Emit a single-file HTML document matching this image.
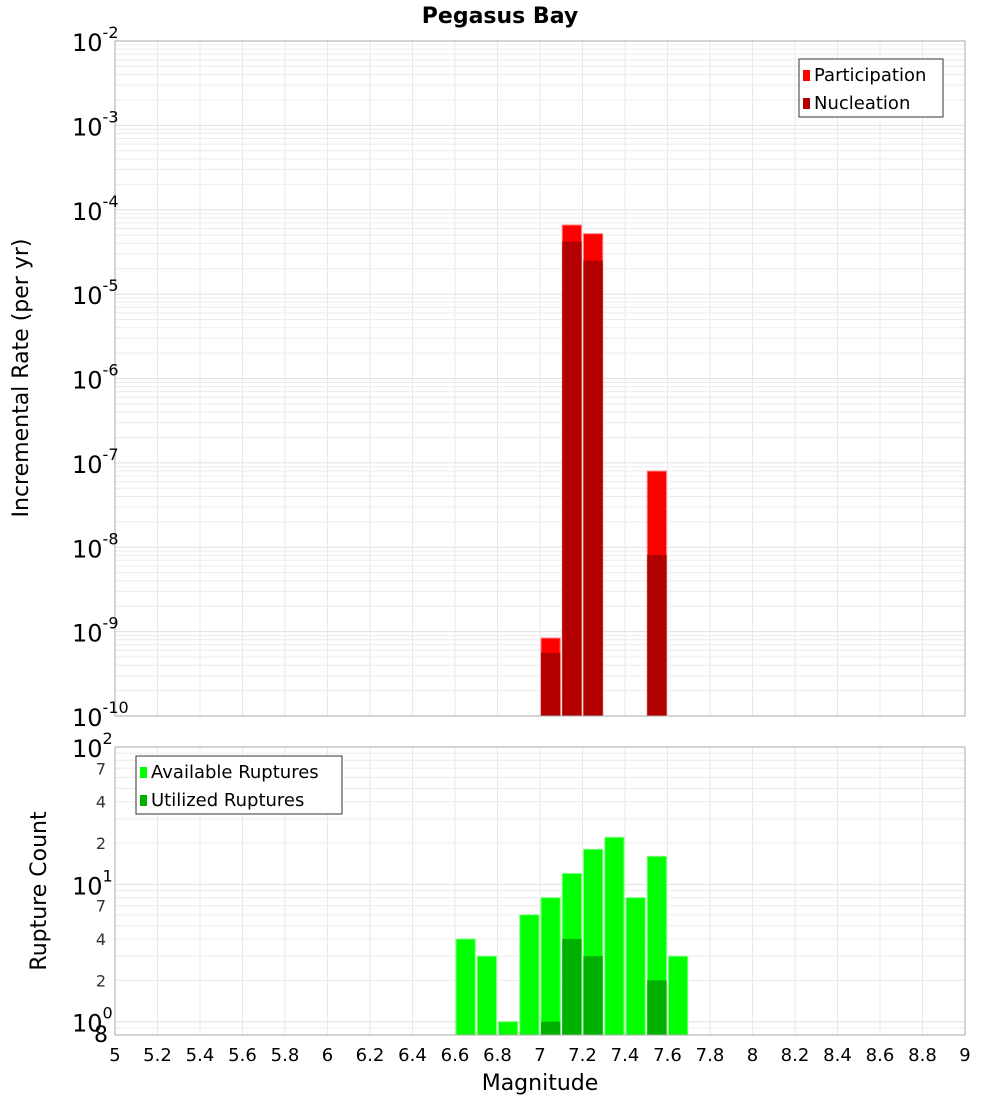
<!DOCTYPE html>
<html><head><meta charset="utf-8"><style>
body{margin:0;background:#fff;font-family:"DejaVu Sans","Liberation Sans",sans-serif}
svg{display:block}
</style></head><body>
<svg id="c" width="1000" height="1100" xmlns="http://www.w3.org/2000/svg">
<text x="500" y="23" text-anchor="middle" font-size="22" font-weight="bold">Pegasus Bay</text>
<text transform="translate(28,378) rotate(-90)" text-anchor="middle" font-size="22">Incremental Rate (per yr)</text>
<text transform="translate(46,891) rotate(-90)" text-anchor="middle" font-size="22">Rupture Count</text>
<text x="540" y="1090" text-anchor="middle" font-size="22">Magnitude</text>
<g id="top"></g>
<g id="bot"></g>
</svg>
<script>
const mags=[6.65,6.75,6.85,6.95,7.05,7.15,7.25,7.35,7.45,7.55,7.65];
const partMags=[7.05,7.15,7.25,7.55];
const partVals=[8.4e-10,6.6e-5,5.2e-5,8.0e-8];
const nuclVals=[5.6e-10,4.2e-5,2.5e-5,8.1e-9];
const availVals=[4,3,1,6,8,12,18,22,8,16,3];
const utilMags=[7.05,7.15,7.25,7.55];
const utilVals=[1,4,3,2];
const xTicks=[5,5.2,5.4,5.6,5.8,6,6.2,6.4,6.6,6.8,7,7.2,7.4,7.6,7.8,8,8.2,8.4,8.6,8.8,9];

const NS="http://www.w3.org/2000/svg";
const X0=115,X1=965;
const xs=m=>X0+(m-5)/4*(X1-X0);
const T0=41,T1=716; const ty=v=>T0+(-2-Math.log10(v))/8*(T1-T0);
const B0=747,B1=1035; const by=v=>B0+(2-Math.log10(v))/(2-Math.log10(0.8))*(B1-B0);
function el(p,t,a){const e=document.createElementNS(NS,t);for(const k in a)e.setAttribute(k,a[k]);p.appendChild(e);return e;}
const gTop=document.getElementById('top'),gBot=document.getElementById('bot');

function grid(g,y0,y1,yf,dmin,dmax,lo){
  for(let i=0;i<=20;i++){const m=5+i*0.2;const l=el(g,'line',{x1:xs(m),x2:xs(m),y1:y0,y2:y1,stroke:'#e8e8e8'});
    
    }
  for(let d=dmin;d<=dmax;d++)for(let k=1;k<10;k++){const v=k*Math.pow(10,d);if(v<lo||(d==dmax&&k>1))continue;const y=yf(v);
    const l=el(g,'line',{x1:X0,x2:X1,y1:y,y2:y,stroke:k==1?'#e0e0e0':'#ececec'});
    
    }
}
grid(gTop,T0,T1,ty,-10,-2,1e-10);
grid(gBot,B0,B1,by,-1,2,0.8);

partMags.forEach((m,i)=>{
  const x=xs(m-0.05)+1,w=xs(m+0.05)-xs(m-0.05)-2;
  let y=ty(partVals[i]);const r=el(gTop,'rect',{x:x,y:y,width:w,height:T1-y,fill:'#ff0000',stroke:'#ff8080','stroke-width':1});
  
  
  y=ty(nuclVals[i]);const n=el(gTop,'rect',{x:x,y:y,width:w,height:T1-y,fill:'#b20000'});
  
  
});
mags.forEach((m,i)=>{
  const x=xs(m-0.05)+1,w=xs(m+0.05)-xs(m-0.05)-2;const y=by(availVals[i]);
  const r=el(gBot,'rect',{x:x,y:y,width:w,height:B1-y,fill:'#00ff00',stroke:'#80ff80','stroke-width':1});
  
  
});
utilMags.forEach((m,i)=>{
  const x=xs(m-0.05)+1,w=xs(m+0.05)-xs(m-0.05)-2;const y=by(utilVals[i]);
  const r=el(gBot,'rect',{x:x,y:y,width:w,height:B1-y,fill:'#00b000'});
  
  
});
[[gTop,T0,T1],[gBot,B0,B1]].forEach(([g,a,b])=>{const f=el(g,'rect',{x:X0,y:a,width:X1-X0,height:b-a,fill:'none',stroke:'#aaa'});
  
  });

for(let d=-10;d<=-2;d++){const y=ty(Math.pow(10,d));
  const t=el(gTop,'text',{x:72,y:y+10,'font-size':24});
  
  
  t.textContent='10';const s=el(t,'tspan',{dy:-13,'font-size':16});s.textContent=String(d);}
[[100,'2'],[10,'1'],[1,'0']].forEach(([v,e])=>{const y=by(v);
  const t=el(gBot,'text',{x:72,y:y+10,'font-size':24});
  
  
  t.textContent='10';const s=el(t,'tspan',{dy:-13,'font-size':16});s.textContent=e;});
[[70,'7'],[40,'4'],[20,'2'],[7,'7'],[4,'4'],[2,'2']].forEach(([v,l])=>{const t=el(gBot,'text',{x:106,y:by(v)+6,'font-size':16,'text-anchor':'end',fill:'#333'});
  
  
  t.textContent=l;});
{const t=el(gBot,'text',{x:108,y:1042,'font-size':22,'text-anchor':'end'});
  
  
  t.textContent='8';}
xTicks.forEach(m=>{const t=el(gBot,'text',{x:xs(m),y:1061,'font-size':18,'text-anchor':'middle'});
  
  
  t.textContent=String(m);});

function legend(g,x,y,w,items){const b=el(g,'rect',{x:x,y:y,width:w,height:58,fill:'#fff',stroke:'#333'});
  
  
  items.forEach(([c,l],i)=>{const r=el(g,'rect',{x:x+4,y:y+11+i*28,width:7,height:11,fill:c});
    
    
    const t=el(g,'text',{x:x+15,y:y+22+i*28,'font-size':18});
    
    
    t.textContent=l;});}
legend(gTop,799,59,144,[['#ff0000','Participation'],['#b20000','Nucleation']]);
legend(gBot,136,756,206,[['#00ff00','Available Ruptures'],['#00b000','Utilized Ruptures']]);
</script>
</body></html>
